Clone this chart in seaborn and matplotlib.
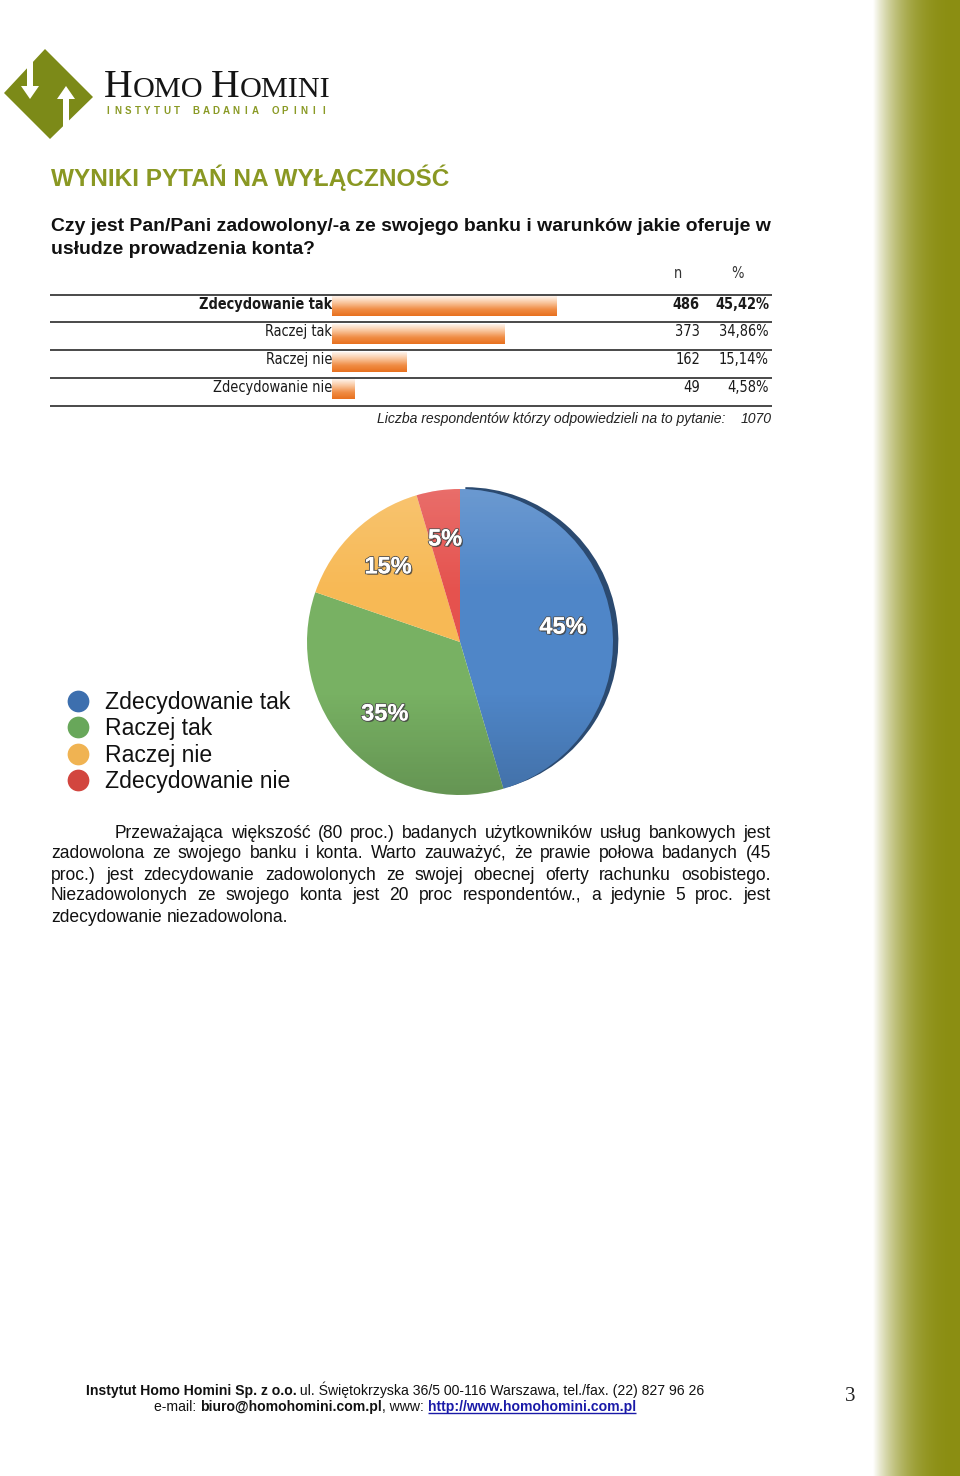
import numpy as np
import pandas as pd
import matplotlib
matplotlib.use("Agg")
import matplotlib.pyplot as plt
import seaborn as sns
import matplotlib.patheffects as pe
from matplotlib import font_manager as fm
from matplotlib.patches import Polygon, Wedge
from matplotlib.colors import LinearSegmentedColormap, to_rgb

# ---------------- data ----------------
categories = ["Zdecydowanie tak", "Raczej tak", "Raczej nie", "Zdecydowanie nie"]
counts = [486, 373, 162, 49]
percents = ["45,42%", "34,86%", "15,14%", "4,58%"]
total_n = "1070"
pie_colors = ["#4f86c8", "#78b163", "#f7b955", "#e5524e"]
legend_colors = ["#3d6fae", "#68a75a", "#f0b352", "#d2463f"]

title = "WYNIKI PYTAŃ NA WYŁĄCZNOŚĆ"
question = ["Czy jest Pan/Pani zadowolony/-a ze swojego banku i warunków jakie oferuje w",
            "usłudze prowadzenia konta?"]
footnote = "Liczba respondentów którzy odpowiedzieli na to pytanie:"
paragraph = [
    "Przeważająca większość (80 proc.) badanych użytkowników usług bankowych jest",
    "zadowolona ze swojego banku i konta. Warto zauważyć, że prawie połowa badanych (45",
    "proc.) jest zdecydowanie zadowolonych ze swojej obecnej oferty rachunku osobistego.",
    "Niezadowolonych ze swojego konta jest 20 proc respondentów., a jedynie 5 proc. jest",
    "zdecydowanie niezadowolona.",
]

# ---------------- setup ----------------
sns.set_theme(style="white")
plt.rcParams["font.family"] = ["Liberation Sans", "DejaVu Sans"]

names = {f.name for f in fm.fontManager.ttflist}
has_narrow = "Liberation Sans Narrow" in names
has_cond = any(f.name == "DejaVu Sans" and "condensed" in str(f.stretch) for f in fm.fontManager.ttflist)
table_font = dict(family="DejaVu Sans", stretch="condensed") if has_cond else dict(family="DejaVu Sans")
foot_font = dict(family="Liberation Sans Narrow") if has_narrow else dict(family="Liberation Sans")

W, H = 960, 1476
fig = plt.figure(figsize=(W / 100, H / 100), dpi=100)
fig.patch.set_facecolor("white")
R = fig.canvas.get_renderer()

page = fig.add_axes([0, 0, 1, 1])
page.set_xlim(0, W)
page.set_ylim(H, 0)
page.axis("off")


def frac(x0, y0, x1, y1):
    return [x0 / W, 1 - y1 / H, (x1 - x0) / W, (y1 - y0) / H]


def wid(t):
    return t.get_window_extent(R).width


def fit(t, target):
    t.set_fontsize(t.get_fontsize() * target / wid(t))
    return t


# ---------------- right sidebar gradient ----------------
tt = np.linspace(0, 1, 300)
f = 1 - (1 - tt) ** 2.7
olive = np.array(to_rgb("#8b8e12"))
grad = (1 - f)[:, None] * np.ones(3) + f[:, None] * olive
page.imshow(grad[None, :, :], extent=[873, W, H, 0], aspect="auto", zorder=0)
page.set_xlim(0, W)
page.set_ylim(H, 0)

# ---------------- logo ----------------
logo_col = "#7c8a18"
page.add_patch(Polygon([(4, 93), (45, 49), (93, 97), (50, 139)], closed=True, fc=logo_col, ec="none", zorder=2))
# white channel from upper-left edge, ending with a downward arrowhead
page.add_patch(Polygon([(27, 60), (33, 60), (33, 86), (39, 86), (30, 99), (21, 86), (27, 86)],
                       closed=True, fc="white", ec="none", zorder=3))
# white channel from lower-right edge, ending with an upward arrowhead
page.add_patch(Polygon([(63, 130), (69, 130), (69, 99), (75, 99), (66, 86), (57, 99), (63, 99)],
                       closed=True, fc="white", ec="none", zorder=3))

serif = ["Liberation Serif", "DejaVu Serif"]
pieces = [("H", 28.5), ("OMO", 21.8), (" ", 21.8), ("H", 28.5), ("OMINI", 21.8)]
x = 104
for txt, sz in pieces:
    t = page.text(x, 97, txt, fontsize=sz, family=serif, color="#151515", va="baseline", ha="left", zorder=4)
    x += wid(t)
sub = "INSTYTUT BADANIA OPINII"
step = (327 - 106 - 5) / (len(sub) - 1)
for i, ch in enumerate(sub):
    page.text(108 + i * step, 114.5, ch, fontsize=7, fontweight="bold", color="#8a9a25", va="baseline",
              ha="center", zorder=4)

# ---------------- title & question ----------------
t = page.text(51, 186, title, fontsize=17, fontweight="bold", color="#8a9823", va="baseline")
fit(t, 400)
q1 = page.text(51, 231, question[0], fontsize=13, fontweight="bold", color="#111111", va="baseline")
fit(q1, 720)
page.text(51, 254, question[1], fontsize=q1.get_fontsize(), fontweight="bold", color="#111111", va="baseline")

# ---------------- table ----------------
lines_y = [295, 322, 350, 378, 406]
page.hlines(lines_y, 50, 772, color="#3a3a3a", lw=1.3, zorder=2)
tab_texts = []
tab_texts.append(page.text(678, 278, "n", fontsize=11, color="#333333", ha="center", va="baseline", **table_font))
tab_texts.append(page.text(737, 278, "%", fontsize=11, color="#333333", ha="center", va="baseline", **table_font))

lab_objs = []
for i, cat in enumerate(categories):
    yb = lines_y[i] + 14
    fw = "bold" if i == 0 else "normal"
    lab_objs.append(page.text(332, yb, cat, fontsize=11, fontweight=fw, color="#1a1a1a", ha="right",
                              va="baseline", **table_font))
    tab_texts.append(page.text(700, yb, str(counts[i]), fontsize=11, fontweight=fw, color="#1a1a1a",
                               ha="right", va="baseline", **table_font))
    tab_texts.append(page.text(769, yb, percents[i], fontsize=11, fontweight=fw, color="#1a1a1a",
                               ha="right", va="baseline", **table_font))
scale = 134 / wid(lab_objs[0])
for t in tab_texts + lab_objs:
    t.set_fontsize(t.get_fontsize() * scale)

ft = page.text(725, 423, footnote, fontsize=10, style="italic", color="#222222", ha="right", va="baseline")
fit(ft, 350)
page.text(772, 423, total_n, fontsize=ft.get_fontsize(), style="italic", color="#222222", ha="right", va="baseline")

# bars (seaborn)
px_per_n = 225 / 486
ax_bar = fig.add_axes(frac(332, 295, 772, 406))
ax_bar.patch.set_alpha(0)
df = pd.DataFrame({"cat": categories, "n": counts})
sns.barplot(data=df, x="n", y="cat", order=categories, color="#ee7a28", width=0.72, ax=ax_bar)
ax_bar.set_xlim(0, 440 / px_per_n)
ax_bar.set_ylim(3.6, -0.4)
bar_cmap = LinearSegmentedColormap.from_list("bar", ["#fff4ec", "#f9c59c", "#f08d45", "#e8711f"])
gimg = np.linspace(0, 1, 64)[:, None]
for p in list(ax_bar.patches):
    x0, y0, w_, h_ = p.get_x(), p.get_y(), p.get_width(), p.get_height()
    im = ax_bar.imshow(gimg, cmap=bar_cmap, extent=[x0, x0 + w_, y0 + h_, y0], aspect="auto", zorder=3)
    im.set_clip_path(p)
    p.set_facecolor("none")
    p.set_edgecolor("none")
ax_bar.set_xlim(0, 440 / px_per_n)
ax_bar.set_ylim(3.6, -0.4)
ax_bar.axis("off")

# ---------------- pie ----------------
cx, cy, rad = 460, 642, 153
m = 1.08
ax_pie = fig.add_axes(frac(cx - rad * m, cy - rad * m, cx + rad * m, cy + rad * m))
ax_pie.patch.set_alpha(0)
wedges, _, autotexts = ax_pie.pie(counts, colors=pie_colors, startangle=90, counterclock=False,
                                  autopct=lambda p: f"{p:.0f}%", pctdistance=0.68,
                                  wedgeprops=dict(linewidth=0))
w0 = wedges[0]
rim = Wedge((0.035, 0.012), 1.0, w0.theta1, w0.theta2, fc="#2b4a70", ec="none", zorder=0)
ax_pie.add_patch(rim)
shade = LinearSegmentedColormap.from_list("sh", [(1, 1, 1, 0.16), (1, 1, 1, 0.0), (0, 0, 0, 0.0), (0, 0, 0, 0.16)])
simg = np.linspace(0, 1, 128)[:, None]
for w in wedges:
    w.set_zorder(1)
    im = ax_pie.imshow(simg, cmap=shade, extent=[-1, 1, -1, 1], aspect="auto", zorder=2, origin="upper")
    im.set_clip_path(w)
for at in autotexts:
    at.set_color("white")
    at.set_fontsize(17)
    at.set_fontweight("bold")
    at.set_zorder(5)
    at.set_path_effects([pe.withSimplePatchShadow(offset=(1, -1), shadow_rgbFace="#333333", alpha=0.7),
                         pe.withStroke(linewidth=1.4, foreground="#555555"), pe.Normal()])
ax_pie.set_xlim(-m, m)
ax_pie.set_ylim(-m, m)
ax_pie.set_aspect("equal")
ax_pie.axis("off")

# ---------------- legend ----------------
leg_texts = []
for i, cat in enumerate(categories):
    yc = 701 + i * 26.3
    page.scatter([78], [yc], s=245, color=legend_colors[i], zorder=3, linewidths=0)
    leg_texts.append(page.text(105, yc + 8, cat, fontsize=16, color="#111111", va="baseline", ha="left"))
fit(leg_texts[0], 186)
for t in leg_texts[1:]:
    t.set_fontsize(leg_texts[0].get_fontsize())

# ---------------- paragraph (justified) ----------------
probe = page.text(51, 921.5, paragraph[-1], fontsize=11, color="#111111", va="baseline")
fit(probe, 237)
psize = probe.get_fontsize()
probe.remove()
sp = page.text(0, 0, "a a", fontsize=psize)
sp2 = page.text(0, 0, "aa", fontsize=psize)
space_w = wid(sp) - wid(sp2)
sp.remove(); sp2.remove()
for i, line in enumerate(paragraph):
    yb = 837.5 + i * 21
    x0 = 115 if i == 0 else 51
    words = line.split()
    objs = [page.text(0, yb, w_, fontsize=psize, color="#111111", va="baseline", ha="left") for w_ in words]
    ws = [wid(o) for o in objs]
    if i == len(paragraph) - 1:
        gap = space_w
    else:
        gap = (771 - x0 - sum(ws)) / (len(words) - 1)
    xx = x0
    for o, w_ in zip(objs, ws):
        o.set_x(xx)
        xx += w_ + gap

# ---------------- footer ----------------
def run_line(parts, xcenter, yb, size):
    objs = []
    for txt, bold, col in parts:
        objs.append(page.text(0, yb, txt, fontsize=size, fontweight="bold" if bold else "normal",
                              color=col, va="baseline", ha="left", **foot_font))
    ws = [wid(o) for o in objs]
    xx = xcenter - sum(ws) / 2
    out = []
    for o, w_ in zip(objs, ws):
        o.set_x(xx)
        out.append((xx, xx + w_))
        xx += w_
    return objs, out


line1 = [("Instytut Homo Homini Sp. z o.o.", True, "#111111"),
         (" ul. Świętokrzyska 36/5 00-116 Warszawa, tel./fax. (22) 827 96 26", False, "#111111")]
objs, _ = run_line(line1, 395, 1395, 11)
tot = sum(wid(o) for o in objs)
fsize = 11 * 618 / tot
for o in objs:
    o.remove()
run_line(line1, 395, 1395, fsize)
line2 = [("e-mail: ", False, "#111111"), ("biuro@homohomini.com.pl", True, "#111111"),
         (", www: ", False, "#111111"), ("http://www.homohomini.com.pl", True, "#1a1aa8")]
objs2, spans = run_line(line2, 395, 1411, fsize)
page.hlines(1413, spans[3][0], spans[3][1], color="#1a1aa8", lw=1)

page.text(850, 1401, "3", fontsize=15, family=serif, color="#222222", ha="center", va="baseline")

fig.savefig("out.png", dpi=100, facecolor="white")
